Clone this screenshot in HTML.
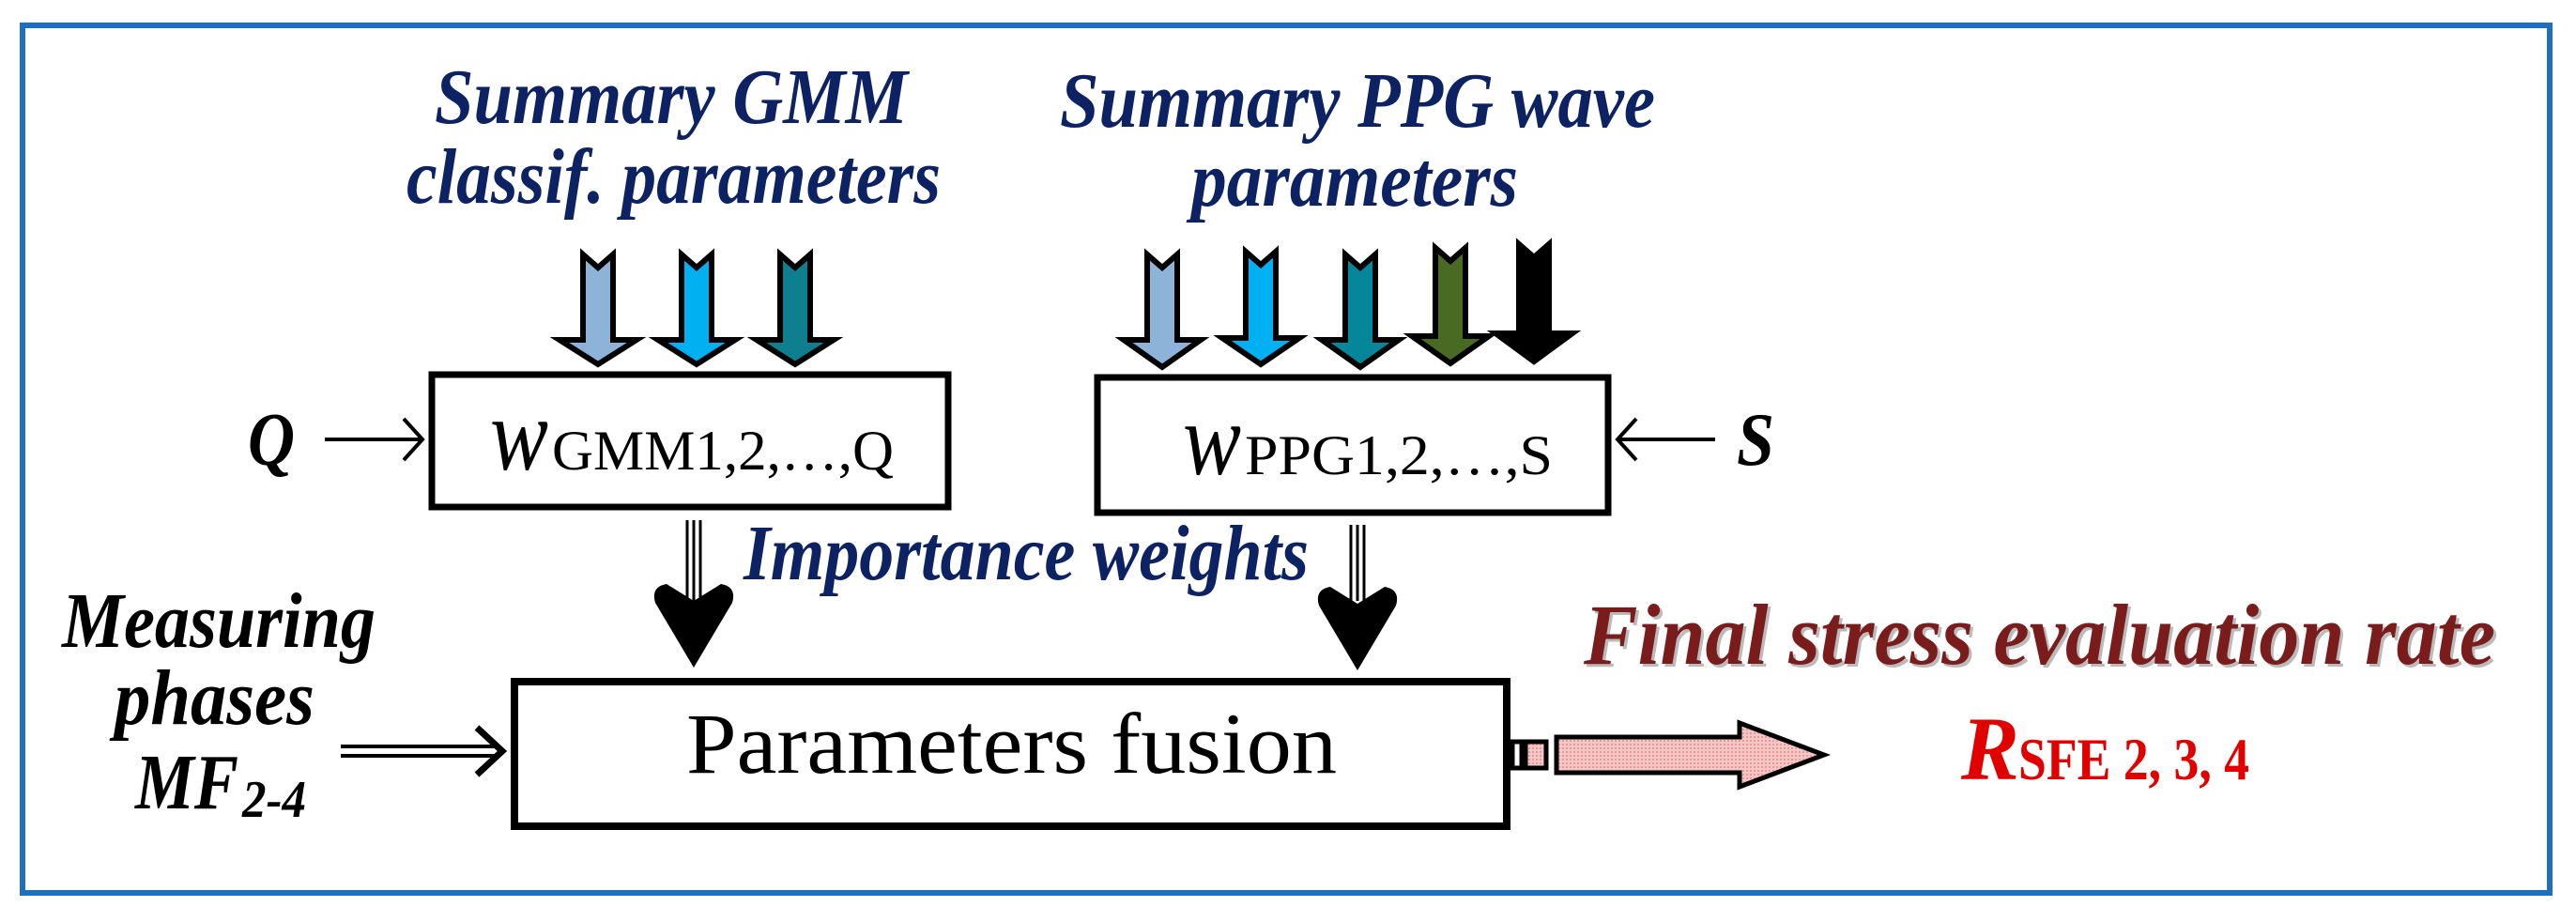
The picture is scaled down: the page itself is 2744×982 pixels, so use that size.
<!DOCTYPE html>
<html><head><meta charset="utf-8"><style>
html,body{margin:0;padding:0;background:#fff;}
svg{display:block;}
.t{font-family:"Liberation Serif",serif;font-weight:bold;font-style:italic;}
</style></head><body>
<svg width="2744" height="982" viewBox="0 0 2744 982" xmlns="http://www.w3.org/2000/svg">
<defs>
<pattern id="dots" width="4" height="4" patternUnits="userSpaceOnUse">
<rect width="4" height="4" fill="#f6c6c6"/><rect width="2" height="2" fill="#e59a9a"/>
</pattern>
</defs>
<rect x="24" y="27" width="2692" height="924" fill="none" stroke="#1f6fc0" stroke-width="6"/>

<!-- titles -->
<g class="t" fill="#0d2263" font-size="84">
<text x="463" y="131" textLength="504" lengthAdjust="spacingAndGlyphs">Summary GMM</text>
<text x="433" y="216" textLength="569" lengthAdjust="spacingAndGlyphs">classif. parameters</text>
<text x="1129" y="135" textLength="634" lengthAdjust="spacingAndGlyphs">Summary PPG wave</text>
<text x="1269" y="219" textLength="348" lengthAdjust="spacingAndGlyphs">parameters</text>
<text x="792" y="617" textLength="602" lengthAdjust="spacingAndGlyphs">Importance weights</text>
</g>

<!-- input arrows -->
<g stroke="#000" stroke-width="6" stroke-linejoin="miter">
<path d="M621,271 L637,285 L653,271 L653,362 L678,362 L637,388 L596,362 L621,362 Z" fill="#8db3d9"/>
<path d="M726,271 L742,285 L758,271 L758,362 L783,362 L742,388 L701,362 L726,362 Z" fill="#00b0f0"/>
<path d="M831,271 L847,285 L863,271 L863,362 L888,362 L847,388 L806,362 L831,362 Z" fill="#0e7f8e"/>
<path d="M1222,271 L1238,285 L1254,271 L1254,362 L1279,362 L1238,391 L1197,362 L1222,362 Z" fill="#8db3d9"/>
<path d="M1327,268 L1343,282 L1359,268 L1359,360 L1384,360 L1343,388 L1302,360 L1327,360 Z" fill="#00b0f0"/>
<path d="M1433,271 L1449,285 L1465,271 L1465,362 L1490,362 L1449,391 L1408,362 L1433,362 Z" fill="#05869a"/>
<path d="M1529,264 L1545,278 L1561,264 L1561,358 L1586,358 L1545,387 L1504,358 L1529,358 Z" fill="#486a22"/>
<path d="M1618,260 L1634,274 L1650,260 L1650,355 L1675,355 L1634,385 L1593,355 L1618,355 Z" fill="#000"/>
</g>

<!-- boxes -->
<rect x="460" y="399" width="550" height="141" fill="#fff" stroke="#000" stroke-width="7"/>
<rect x="1169" y="402" width="544" height="144" fill="#fff" stroke="#000" stroke-width="7"/>
<g font-family="Liberation Serif,serif">
<text x="522" y="500" font-size="110" font-style="italic" textLength="62" lengthAdjust="spacingAndGlyphs">w</text>
<text x="588" y="500" font-size="60" textLength="364" lengthAdjust="spacingAndGlyphs">GMM1,2,…,Q</text>
<text x="1260" y="505" font-size="110" font-style="italic" textLength="62" lengthAdjust="spacingAndGlyphs">w</text>
<text x="1326" y="505" font-size="60" textLength="328" lengthAdjust="spacingAndGlyphs">PPG1,2,…,S</text>
</g>
<g class="t" font-size="80" fill="#000">
<text x="264" y="495" textLength="50" lengthAdjust="spacingAndGlyphs">Q</text>
<text x="1850" y="495" textLength="40" lengthAdjust="spacingAndGlyphs">S</text>
</g>
<g stroke="#000" stroke-width="4" fill="none">
<path d="M346,468 L450,468 M430,446 L450,468 L430,490"/>
<path d="M1827,468 L1723,468 M1743,446 L1723,468 L1743,490"/>
</g>

<!-- triple line arrows -->
<g stroke="#000" stroke-width="3">
<line x1="732" y1="554" x2="732" y2="640"/><line x1="739" y1="554" x2="739" y2="640"/><line x1="746" y1="554" x2="746" y2="640"/>
<line x1="1439" y1="559" x2="1439" y2="640"/><line x1="1446" y1="559" x2="1446" y2="640"/><line x1="1453" y1="559" x2="1453" y2="640"/>
</g>
<path d="M739,711 L698,642 Q693,625 710,622 L739,640 L768,622 Q785,625 780,642 Z" fill="#000"/>
<path d="M1446,714 L1405,645 Q1400,628 1417,625 L1446,643 L1475,625 Q1492,628 1487,645 Z" fill="#000"/>

<!-- measuring phases -->
<g class="t" font-size="84" fill="#000">
<text x="66" y="689" textLength="334" lengthAdjust="spacingAndGlyphs">Measuring</text>
<text x="122" y="771" textLength="213" lengthAdjust="spacingAndGlyphs">phases</text>
<text x="144" y="861" textLength="110" lengthAdjust="spacingAndGlyphs">MF</text>
<text x="258" y="870" font-size="56" textLength="68" lengthAdjust="spacingAndGlyphs">2-4</text>
</g>
<g stroke="#000" stroke-width="4" fill="none">
<line x1="363" y1="795" x2="530" y2="795"/><line x1="363" y1="805" x2="530" y2="805"/>
<path d="M508,775 L535,800 L508,825" stroke-width="7"/>
</g>

<!-- fusion box -->
<rect x="548" y="726" width="1057" height="154" fill="#fff" stroke="#000" stroke-width="8"/>
<text x="731" y="823" font-family="Liberation Serif,serif" font-size="92" textLength="693" lengthAdjust="spacingAndGlyphs">Parameters fusion</text>

<!-- output arrow -->
<g stroke="#000" stroke-width="5">
<rect x="1611" y="790" width="10" height="28" fill="#fff"/>
<rect x="1625" y="790" width="22" height="28" fill="url(#dots)"/>
<path d="M1658,785 L1853,785 L1853,770 L1943,804 L1853,838 L1853,823 L1658,823 Z" fill="url(#dots)"/>
</g>

<!-- final -->
<g class="t" font-size="92">
<text x="1690" y="710" fill="#bbb" textLength="971" lengthAdjust="spacingAndGlyphs">Final stress evaluation rate</text>
<text x="1687" y="707" fill="#7b1c1c" textLength="971" lengthAdjust="spacingAndGlyphs">Final stress evaluation rate</text>
</g>
<g fill="#e00000" font-family="Liberation Serif,serif" font-weight="bold">
<text x="2089" y="830" font-size="96" font-style="italic" textLength="62" lengthAdjust="spacingAndGlyphs">R</text>
<text x="2150" y="830" font-size="64" textLength="246" lengthAdjust="spacingAndGlyphs">SFE 2, 3,  4</text>
</g>
</svg>
</body></html>
